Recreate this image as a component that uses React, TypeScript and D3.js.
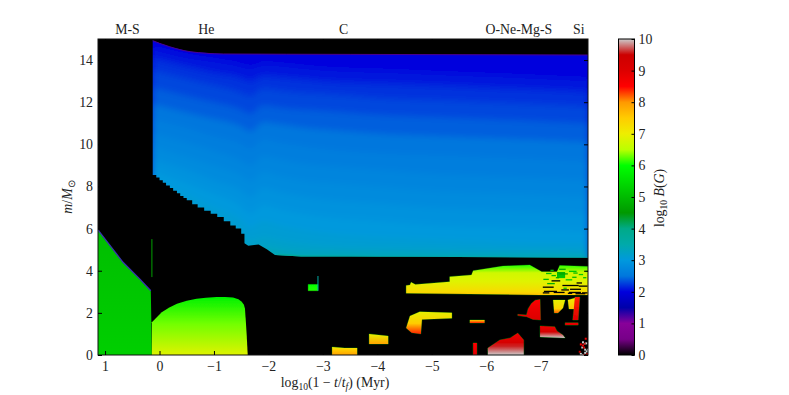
import { useEffect, useRef } from 'react';
import * as d3 from 'd3';

const width = 789;
const height = 395;
const margin = { top: 39, right: 201, bottom: 40, left: 98 };
const font = '"Liberation Serif", serif';

// nipy_spectral stops, every 0.5 in log10 B
const colorLevels = d3.range(0, 10.5, 0.5);
const colorHex = ['#000000', '#770088', '#880099', '#0000aa', '#0000dd', '#0077dd', '#0099dd', '#00aaaa', '#00aa88', '#009900', '#00bb00', '#00dd00', '#00ff00', '#bbff00', '#eeee00', '#ffcc00', '#ff9900', '#ff0000', '#dd0000', '#cc0000', '#cccccc'];

const xTicks = [1, 0, -1, -2, -3, -4, -5, -6, -7];
const yTicks = [0, 2, 4, 6, 8, 10, 12, 14];
const barTicks = [0, 1, 2, 3, 4, 5, 6, 7, 8, 9, 10];
const stageNames = ['M-S', 'He', 'C', 'O-Ne-Mg-S', 'Si'];
const stageCentres = [0.59, -0.86, -3.38, -6.6, -7.7];

// envelope of the blue region
const envTopTau = [0.125, -0.19, -0.56, -1.17, -3.5, -7.87];
const envTopM = [14.92, 14.63, 14.4, 14.29, 14.27, 14.24];
const envStairTau = [0.125, 0.06, 0.0, -0.06, -0.12, -0.19, -0.25, -0.32, -0.38, -0.44, -0.5, -0.6, -0.7, -0.82, -0.94, -1.06, -1.18, -1.3, -1.4, -1.5, -1.56];
const envStairM = [8.54, 8.42, 8.3, 8.18, 8.05, 7.93, 7.8, 7.68, 7.55, 7.45, 7.35, 7.15, 7.0, 6.85, 6.7, 6.55, 6.35, 6.15, 6.0, 5.75, 5.3];
const envTailTau = [-1.63, -1.82, -1.97, -2.12, -2.6, -3.5, -7.87];
const envTailM = [5.19, 5.25, 5.02, 4.75, 4.67, 4.67, 4.62];

// contours of log10 B in the envelope
const isoTau = [0.125, -0.5, -1, -1.45, -1.68, -1.9, -2.2, -2.6, -3, -4, -5, -6, -7, -7.87];
const isoLevels = [2.1, 2.2, 2.3, 2.4, 2.5, 2.6, 2.7, 2.8, 2.9, 3.0, 3.1, 3.2, 3.4, 3.7];
const iso21 = [14.6, 14.2, 14.0, 13.8, 13.65, 13.85, 13.8, 13.7, 13.6, 13.5, 13.4, 13.3, 13.2, 13.1];
const iso22 = [14.1, 13.7, 13.4, 13.2, 13.0, 13.25, 13.2, 13.1, 13.0, 12.9, 12.8, 12.7, 12.6, 12.5];
const iso23 = [13.5, 13.1, 12.8, 12.5, 12.3, 12.65, 12.55, 12.45, 12.4, 12.2, 12.1, 12.0, 11.9, 11.8];
const iso24 = [12.7, 12.3, 12.0, 11.7, 11.45, 11.85, 11.75, 11.65, 11.6, 11.4, 11.3, 11.2, 11.1, 11.0];
const iso25 = [11.9, 11.5, 11.2, 10.9, 10.6, 11.05, 10.95, 10.8, 10.7, 10.5, 10.4, 10.3, 10.2, 10.1];
const iso26 = [11.2, 10.8, 10.4, 10.1, 9.8, 10.25, 10.1, 9.95, 9.8, 9.6, 9.5, 9.4, 9.3, 9.2];
const iso27 = [10.5, 10.1, 9.7, 9.3, 9.0, 9.45, 9.3, 9.1, 9.0, 8.8, 8.6, 8.5, 8.4, 8.3];
const iso28 = [9.9, 9.4, 9.0, 8.6, 8.25, 8.7, 8.5, 8.3, 8.2, 8.0, 7.8, 7.7, 7.6, 7.5];
const iso29 = [9.3, 8.8, 8.3, 7.9, 7.5, 7.95, 7.75, 7.55, 7.4, 7.2, 7.0, 6.9, 6.8, 6.7];
const iso30 = [8.8, 8.2, 7.7, 7.2, 6.75, 7.15, 6.95, 6.75, 6.6, 6.4, 6.2, 6.1, 6.0, 5.9];
const iso31 = [8.2, 7.6, 7.0, 6.5, 6.05, 6.35, 6.15, 5.95, 5.8, 5.6, 5.5, 5.4, 5.3, 5.3];
const iso32 = [7.7, 7.0, 6.4, 5.9, 5.45, 5.6, 5.45, 5.3, 5.2, 5.1, 5.05, 5.0, 5.0, 4.95];
const iso34 = [6.9, 6.2, 5.6, 5.2, 4.95, 5.05, 4.95, 4.85, 4.85, 4.82, 4.8, 4.78, 4.76, 4.74];
const iso37 = [4, 4, 4, 4, 4, 4, 4.78, 4.74, 4.72, 4.7, 4.68, 4.67, 4.65, 4.64];
const isoLines = [iso21, iso22, iso23, iso24, iso25, iso26, iso27, iso28, iso29, iso30, iso31, iso32, iso34, iso37];

// convective patches: outline [tau, m], and log10 B against m as [m, B]
const mainSeq = [[1.13, 0], [1.13, 5.95], [1.11, 5.87], [0.67, 4.4], [0.36, 3.6], [0.16, 3.05], [0.14, 0]];
const heCore = [[0.14, 0], [0.14, 1.55], [-0.04, 2.03], [-0.18, 2.25], [-0.32, 2.43], [-0.5, 2.57], [-0.68, 2.67], [-0.85, 2.72], [-1.05, 2.75], [-1.2, 2.75], [-1.35, 2.73], [-1.45, 2.65], [-1.51, 2.53], [-1.55, 2.38], [-1.57, 2.2], [-1.6, 1.0], [-1.62, 0]];
const cShellA = [[-2.73, 3.05], [-2.73, 3.35], [-2.91, 3.35], [-2.91, 3.05]];
const cCoreA = [[-3.17, 0], [-3.17, 0.38], [-3.4, 0.33], [-3.63, 0.33], [-3.63, 0]];
const cCoreB = [[-3.85, 0.52], [-3.85, 1.0], [-4.2, 0.9], [-4.2, 0.52]];
const neCore = [[-4.53, 1.28], [-4.6, 1.85], [-4.78, 2.05], [-5.37, 2.0], [-5.37, 1.74], [-4.82, 1.69], [-4.8, 1.0], [-4.63, 1.06]];
const oShell = [[-4.53, 2.93], [-4.53, 3.3], [-4.6, 3.32], [-4.62, 3.45], [-4.7, 3.35], [-5.33, 3.48], [-5.33, 3.72], [-5.73, 3.8], [-5.76, 4.0], [-6.31, 4.22], [-6.8, 4.27], [-7.02, 3.95], [-7.3, 3.95], [-7.35, 4.25], [-7.87, 4.2], [-7.87, 2.85], [-6.99, 2.85]];
const siGreen = [[-7.3, 3.65], [-7.3, 3.94], [-7.45, 3.94], [-7.45, 3.65]];
const siRedA = [[-6.58, 1.93], [-6.74, 1.9], [-6.77, 2.2], [-6.83, 2.45], [-6.9, 2.6], [-6.99, 2.64], [-7.0, 1.66], [-6.86, 1.69], [-6.74, 1.82], [-6.58, 1.87]];
const siRedB = [[-6.03, 0], [-6.03, 0.33], [-6.25, 0.71], [-6.44, 0.81], [-6.58, 1.04], [-6.69, 0.71], [-6.69, 0]];
const siRedC = [[-5.76, 0], [-5.76, 0.57], [-5.83, 0.57], [-5.83, 0]];
const siLine = [[-5.7, 1.52], [-5.7, 1.66], [-5.97, 1.66], [-5.97, 1.52]];
const siRedD = [[-6.99, 0.85], [-6.99, 1.38], [-7.26, 1.34], [-7.3, 1.14], [-7.41, 0.95], [-7.45, 0.81]];
const siYellowA = [[-7.23, 2.61], [-7.45, 2.61], [-7.41, 2.23], [-7.32, 1.99], [-7.25, 1.99]];
const siYellowB = [[-7.5, 2.61], [-7.63, 2.71], [-7.63, 2.18], [-7.52, 2.18]];
const siRedE = [[-7.63, 2.75], [-7.72, 2.75], [-7.69, 1.66], [-7.59, 1.66]];
const siRedF = [[-7.45, 1.42], [-7.45, 1.53], [-7.69, 1.53], [-7.69, 1.42]];

const bigPatches = [
  { id: 'ms', outline: mainSeq, profile: [[5.9, 5.05], [0, 5.3]] },
  { id: 'he', outline: heCore, profile: [[2.75, 5.8], [1.5, 6.3], [0, 6.85]] },
];
const rimmedPatches = [
  { id: 'ca', outline: cShellA, profile: [[3.35, 6.0], [3.05, 6.1]] },
  { id: 'cb', outline: cCoreA, profile: [[0.38, 6.9], [0.25, 7.5], [0, 7.9]] },
  { id: 'cc', outline: cCoreB, profile: [[1.0, 6.9], [0.52, 7.9]] },
  { id: 'ne', outline: neCore, profile: [[2.05, 6.9], [1.5, 7.5], [1.0, 8.4]] },
  { id: 'os', outline: oShell, profile: [[4.27, 6.1], [3.9, 6.7], [3.5, 6.85], [3.0, 7.3], [2.85, 7.6]] },
  { id: 'sg', outline: siGreen, profile: [[3.94, 4.9], [3.65, 5.2]] },
  { id: 'ra', outline: siRedA, profile: [[2.64, 8.5], [2.2, 8.8], [1.66, 9.0]] },
  { id: 'rb', outline: siRedB, profile: [[1.04, 8.7], [0.6, 9.2], [0.4, 9.6], [0, 10]] },
  { id: 'rc', outline: siRedC, profile: [[0.57, 8.5], [0, 9.0]] },
  { id: 'sl', outline: siLine, profile: [[1.66, 7.4], [1.52, 8.4]] },
  { id: 'rd', outline: siRedD, profile: [[1.38, 8.7], [1.1, 9.3], [0.81, 10]] },
  { id: 'ya', outline: siYellowA, profile: [[2.61, 6.9], [2.2, 7.4], [1.99, 8.2]] },
  { id: 'yb', outline: siYellowB, profile: [[2.71, 7.0], [2.18, 7.6]] },
  { id: 're', outline: siRedE, profile: [[2.75, 8.4], [1.66, 9.0]] },
  { id: 'rf', outline: siRedF, profile: [[1.53, 8.7], [1.42, 9.0]] },
];
const patches = [...bigPatches, ...rimmedPatches];

// mottled streaks in the silicon stage: tau, length in tau, m, log10 B
const fleckTau = [-7.05, -7.04, -7.12, -7.06, -7.2, -7.28, -7.34, -7.4, -7.46, -7.54, -7.6, -7.66, -7.52, -7.78, -7.7, -7.04, -7.24, -7.38, -7.5, -7.64, -7.76, -7.18, -7.34, -7.52, -7.7, -7.82, -7.1, -7.2, -7.42, -7.58];
const fleckLen = [0.1, 0.2, 0.14, 0.24, 0.08, 0.06, 0.16, 0.3, 0.12, 0.2, 0.08, 0.1, 0.22, 0.06, 0.16, 0.12, 0.2, 0.14, 0.08, 0.18, 0.1, 0.06, 0.12, 0.14, 0.08, 0.05, 0.1, 0.16, 0.06, 0.08];
const fleckM = [3.62, 3.25, 3.42, 3.05, 3.8, 3.7, 3.88, 3.33, 3.6, 3.15, 3.92, 3.45, 3.0, 3.7, 3.3, 2.98, 3.0, 3.12, 2.96, 2.94, 2.98, 4.05, 4.1, 4.0, 3.85, 4.0, 3.9, 3.55, 3.2, 3.72];
const fleckB = [5, 0, 4.8, 0, 5, 4.8, 4.7, 0, 5.2, 0, 5, 0, 0, 5, 0, 0, 0, 0, 0, 0, 0, 5, 4.7, 5.2, 5.2, 5, 5, 0, 5.2, 5];
const speckTau = [-7.72, -7.75, -7.78, -7.8, -7.83, -7.85, -7.72, -7.76, -7.8, -7.84, -7.74, -7.78, -7.82, -7.85, -7.73, -7.8, -7.7, -7.76, -7.83, -7.71, -7.79, -7.84, -7.75, -7.81];
const speckM = [0.1, 0.25, 0.4, 0.15, 0.5, 0.3, 0.55, 0.65, 0.7, 0.1, 0.4, 0.05, 0.6, 0.75, 0.3, 0.3, 0.2, 0.5, 0.22, 0.42, 0.58, 0.48, 0.05, 0.82];
const speckB = [10, 0, 9, 10, 0, 10, 8.6, 10, 0, 9, 10, 9, 10, 0, 0, 10, 9.5, 8.8, 10, 0, 9.6, 0, 10, 8.8];

export default function App() {
  const axesRef = useRef<SVGGElement>(null);
  const innerW = width - margin.left - margin.right;
  const innerH = height - margin.top - margin.bottom;

  const x = d3.scaleLinear().domain([1.13, -7.87]).range([margin.left, margin.left + innerW]);
  const y = d3.scaleLinear().domain([0, 15]).range([margin.top + innerH, margin.top]);
  const barY = d3.scaleLinear().domain([0, 10]).range([margin.top + innerH, margin.top]);
  const color = d3.scaleLinear<string>().domain(colorLevels).range(colorHex).clamp(true);

  const polygon = d3.line<number[]>().x(d => x(d[0])).y(d => y(d[1]));
  const stair = envStairTau.flatMap((t, i) => (i ? [[t, envStairM[i - 1]], [t, envStairM[i]]] : [[t, envStairM[i]]]));
  const envTop = envTopTau.map((t, i) => [t, envTopM[i]]);
  const envTail = envTailTau.map((t, i) => [t, envTailM[i]]);
  const envelope = [...envTop, ...[...stair, ...envTail].reverse()];

  const isoArea = d3.area<number>()
    .x((_, i) => x(isoTau[i]))
    .y0(y(-2))
    .y1(d => y(d))
    .curve(d3.curveMonotoneX);
  const topLine = d3.line<number[]>().x(d => x(d[0])).y(d => y(d[1])).curve(d3.curveMonotoneX);

  useEffect(() => {
    const g = d3.select(axesRef.current);
    g.selectAll('*').remove();
    const fmt = (d: d3.NumberValue) => String(d).replace('-', '\u2212');
    const bottom = d3.axisBottom(x).tickValues(xTicks).tickSize(-4).tickPadding(6).tickFormat(fmt);
    const top = d3.axisTop(x).tickValues(xTicks).tickSize(-4).tickFormat(() => '');
    const left = d3.axisLeft(y).tickValues(yTicks).tickSize(-4).tickPadding(5).tickFormat(fmt);
    const right = d3.axisRight(y).tickValues(yTicks).tickSize(-4).tickFormat(() => '');
    const bar = d3.axisRight(barY).tickValues(barTicks).tickSize(-3).tickPadding(4).tickFormat(fmt);
    g.append('g').attr('transform', `translate(0,${margin.top + innerH})`).call(bottom);
    g.append('g').attr('transform', `translate(0,${margin.top})`).call(top);
    g.append('g').attr('transform', `translate(${margin.left},0)`).call(left);
    g.append('g').attr('transform', `translate(${margin.left + innerW},0)`).call(right);
    g.append('g').attr('transform', 'translate(634.5,0)').call(bar);
    g.selectAll('.domain').remove();
    g.selectAll('text').attr('font-family', font).attr('font-size', 13.8).attr('fill', '#222');
  }, []);

  return (
    <svg width={width} height={height} style={{ position: 'absolute', left: 0, top: 0 }}>
      <defs>
        <clipPath id="plot-clip">
          <rect x={margin.left} y={margin.top} width={innerW} height={innerH} />
        </clipPath>
        <clipPath id="env-clip">
          <path d={polygon(envelope) + 'Z'} />
        </clipPath>
        <filter id="band-blur" x="-5%" y="-5%" width="110%" height="110%">
          <feGaussianBlur stdDeviation="3" />
        </filter>
        <filter id="soft" x="-5%" y="-5%" width="110%" height="110%">
          <feGaussianBlur stdDeviation="0.45" />
        </filter>
        <linearGradient id="bar-grad" x1="0" y1="1" x2="0" y2="0">
          {colorLevels.map(v => (
            <stop key={v} offset={v / 10} stopColor={color(v)} />
          ))}
        </linearGradient>
        {patches.map(p => {
          const mTop = p.profile[0][0];
          const mBottom = p.profile[p.profile.length - 1][0];
          return (
            <linearGradient key={p.id} id={`grad-${p.id}`} gradientUnits="userSpaceOnUse" x1="0" x2="0" y1={y(mTop)} y2={y(mBottom)}>
              {p.profile.map(([m, b]) => (
                <stop key={m} offset={(mTop - m) / (mTop - mBottom)} stopColor={color(b)} />
              ))}
            </linearGradient>
          );
        })}
      </defs>

      <rect x={margin.left} y={margin.top} width={innerW} height={innerH} fill="#000" />

      <g clipPath="url(#plot-clip)">
        {/* blue envelope */}
        <g clipPath="url(#env-clip)">
          <g filter="url(#band-blur)">
            <rect x={margin.left - 20} y={margin.top - 20} width={innerW + 40} height={innerH + 40} fill={color(2)} />
            {isoLines.slice(0, -1).map((line, i) => (
              <path key={isoLevels[i]} d={isoArea(line) ?? ''} fill={color(isoLevels[i])} />
            ))}
          </g>
          <path d={isoArea(iso37) ?? ''} fill={color(3.7)} />
        </g>
        <path d={topLine(envTop) ?? ''} fill="none" stroke="#4a0090" strokeWidth={1} />

        <g filter="url(#soft)">
          {/* rims where the image fades into black */}
          {rimmedPatches.map(p => (
            <path key={p.id} d={polygon(p.outline) + 'Z'} fill="none" stroke={color(5.6)} strokeWidth={0.7} strokeOpacity={0.5} />
          ))}
          {patches.map(p => (
            <path key={p.id} d={polygon(p.outline) + 'Z'} fill={`url(#grad-${p.id})`} />
          ))}

          {/* edges and thin features */}
          <path d={polygon(mainSeq.slice(1, 6)) ?? ''} fill="none" stroke="#3a30b0" strokeWidth={1.3} />
          <line x1={x(0.14)} x2={x(0.14)} y1={y(5.5)} y2={y(3.7)} stroke={color(4.6)} strokeWidth={1} />
          <line x1={x(-2.91)} x2={x(-2.91)} y1={y(3.75)} y2={y(3.05)} stroke={color(3.6)} strokeWidth={1} />

          {fleckTau.map((t, i) => (
            <rect key={i} x={x(t)} y={y(fleckM[i])} width={x(t - fleckLen[i]) - x(t)} height={1.3} fill={color(fleckB[i])} />
          ))}
          {speckTau.map((t, i) => (
            <rect key={i} x={x(t)} y={y(speckM[i])} width={2} height={2} fill={color(speckB[i])} />
          ))}
        </g>
      </g>

      <rect x={margin.left} y={margin.top} width={innerW} height={innerH} fill="none" stroke="#111" strokeWidth={1} />

      {/* colour bar */}
      <rect x={618.5} y={margin.top} width={16} height={innerH} fill="url(#bar-grad)" stroke="#000" strokeWidth={1} />

      <g ref={axesRef} />

      {/* text */}
      <g fontFamily={font} fontSize={13.8} fill="#222">
        {stageNames.map((s, i) => (
          <text key={s} x={x(stageCentres[i])} y={34} textAnchor="middle">{s}</text>
        ))}
        <text x={335} y={387} textAnchor="middle">
          log<tspan fontSize={9.5} dy={3}>10</tspan>
          <tspan dy={-3}>(1 − </tspan>
          <tspan fontStyle="italic">t</tspan>/<tspan fontStyle="italic">t</tspan>
          <tspan fontSize={9.5} fontStyle="italic" dy={3}>f</tspan>
          <tspan dy={-3}>) (Myr)</tspan>
        </text>
        <text transform="translate(72,197) rotate(-90)" textAnchor="middle">
          <tspan fontStyle="italic">m</tspan>/<tspan fontStyle="italic">M</tspan>
          <tspan fontSize={9.5} dy={3}>⊙</tspan>
        </text>
        <text transform="translate(664,198) rotate(-90)" textAnchor="middle">
          log<tspan fontSize={9.5} dy={3}>10</tspan>
          <tspan dy={-3}> </tspan>
          <tspan fontStyle="italic">B</tspan>(<tspan fontStyle="italic">G</tspan>)
        </text>
      </g>
    </svg>
  );
}
